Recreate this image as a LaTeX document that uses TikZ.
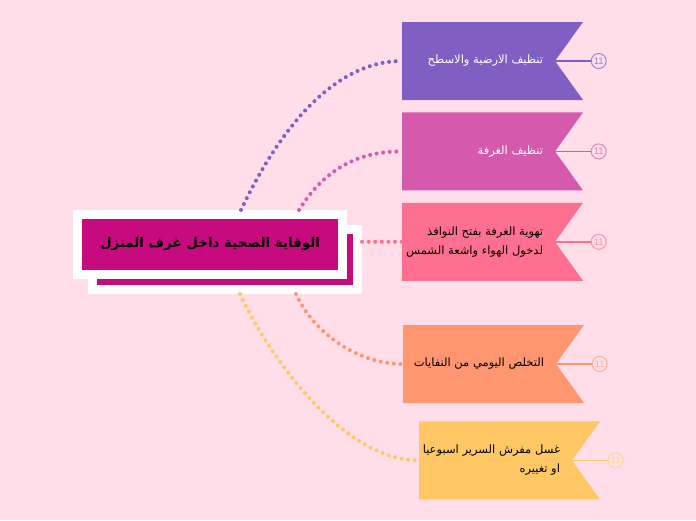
\documentclass[tikz,border=0pt]{standalone}
\usepackage{fontspec}
\newfontfamily\arabicfont[Script=Arabic]{DejaVu Sans}
\newfontfamily\numfont{Liberation Sans}
\TeXXeTstate=1
\usepackage{tikz}
\usetikzlibrary{positioning,calc}

\definecolor{bgpink}{HTML}{FFDEE9}
\definecolor{hubmag}{HTML}{C70A7E}
\definecolor{cpurple}{HTML}{805EC2}
\definecolor{corchid}{HTML}{D55AAE}
\definecolor{cpink}{HTML}{FF6F8F}
\definecolor{csalmon}{HTML}{FF9670}
\definecolor{cyellow}{HTML}{FFC864}

\tikzset{
  hub/.style={fill=hubmag, draw=white, line width=9pt, minimum width=265pt, minimum height=60pt, inner sep=0pt},
  ribbon/.style={minimum width=181pt, minimum height=78pt, inner sep=0pt,
    path picture={\fill[#1] (path picture bounding box.north west) -- (path picture bounding box.north east)
      -- ([xshift=-28pt]path picture bounding box.east) -- (path picture bounding box.south east)
      -- (path picture bounding box.south west) -- cycle;}},
  ribtext/.style={anchor=east, align=right, inner sep=0pt, font=\arabicfont\fontsize{11.5}{19}\selectfont},
  tag/.style={circle, draw=#1!75!white, text=#1!75!white, fill=bgpink, line width=1pt, minimum size=15pt, inner sep=0pt, font=\numfont\fontsize{9.5}{9.5}\selectfont},
  stem/.style={#1, line width=1.5pt},
  link/.style={#1, line width=4pt, line cap=round, dash pattern=on 0pt off 6.6pt}
}

\begin{document}
\begin{tikzpicture}[x=1pt, y=-1pt]
    \useasboundingbox (0,0) rectangle (696,520);
    \fill[bgpink] (0,0) rectangle (696,520);

    %% central topic
     \node (cs) [hub] at (225,259.5) {};
     \node (c) [hub] at (210,244.5) {\arabicfont\bfseries\fontsize{13.4}{15}\selectfont\beginR الوقاية الصحية داخل غرف المنزل\endR};

    %% ribbons
     \node (r1) [ribbon=cpurple] at (492.5,61) {};
     \node (r2) [ribbon=corchid, below=12pt of r1] {};
     \node (r3) [ribbon=cpink, below=12pt of r2] {};
     \node (r4) [ribbon=csalmon] at (493.5,364) {};
     \node (r5) [ribbon=cyellow, below=18pt of r4, xshift=16pt] {};

     \node (t1) [ribtext, white] at ([xshift=-40pt]r1.east) {\beginR تنظيف الارضية والاسطح\endR};
     \node (t2) [ribtext, white] at ([xshift=-40pt]r2.east) {\beginR تنظيف الغرفة\endR};
     \node (t3) [ribtext, black] at ([xshift=-40pt]r3.east) {\beginR تهوية الغرفة بفتح النوافذ\endR\\\beginR لدخول الهواء واشعة الشمس\endR};
     \node (t4) [ribtext, black] at ([xshift=-40pt]r4.east) {\beginR التخلص اليومي من النفايات\endR};
     \node (t5) [ribtext, black] at ([xshift=-40pt]r5.east) {\beginR غسل مفرش السرير اسبوعيا\endR\\\beginR او تغييره\endR};

    %% tags on the right
     \foreach \i/\col in {1/cpurple,2/corchid,3/cpink,4/csalmon,5/cyellow}{
       \coordinate (n\i) at ([xshift=-28pt]r\i.east);
       \node (k\i) [tag=\col, right=7.5pt of r\i.east] {11};
       \draw[stem=\col] (n\i) -- (k\i);
     }

    %% dotted links
     \draw[link=cpurple] ([xshift=31pt]c.north) .. controls +(45,-95) and +(-60,0) .. (r1.west);
     \draw[link=corchid] ([xshift=89pt]c.north) .. controls +(25,-40) and +(-45,0) .. (r2.west);
     \draw[link=cpink] (cs.east |- r3.west) -- (r3.west);
     \draw[link=csalmon] ([xshift=71pt]cs.south) .. controls +(16,36) and +(-48,0) .. (r4.west);
     \draw[link=cyellow] ([xshift=15pt]cs.south) .. controls +(25,55) and +(-79,0) .. (r5.west);

    \end{tikzpicture}
\end{document}
